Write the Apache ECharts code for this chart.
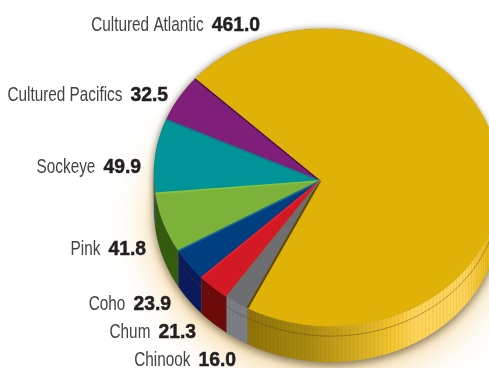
<!DOCTYPE html>
<html>
<head>
<meta charset="utf-8">
<style>html,body{margin:0;padding:0;background:#fff}#chart{width:489px;height:368px}</style>
<script src="https://cdn.jsdelivr.net/npm/echarts@6/dist/echarts.min.js"></script>
</head>
<body>
<div id="chart"></div>
<script>
// Farmed and wild salmon volumes, shown as a tilted 3D disc.
const categories = ['Cultured Atlantic', 'Cultured Pacifics', 'Sockeye', 'Pink', 'Coho', 'Chum', 'Chinook'];
const values = [461.0, 32.5, 49.9, 41.8, 23.9, 21.3, 16.0];

// Appearance per slice
const topColors = ['#E0B208', '#7F1F7A', '#009499', '#7DB23A', '#003F7F', '#D31A24', '#6D6E71'];
const edgeColors = ['#5E4C06', '#4F0F55', '#0A7F86', '#86C440', '#1A6A90', '#F02030', '#7A6A5A'];
const sideColors = ['#B8960F', '#4F0F55', '#00686C', '#34600F', '#0A1A5C', '#6E0A0A', '#7E7F86'];
const labelAnchors = [[260, 25], [168, 95], [141, 167], [146, 249], [171, 304], [196, 332], [236, 360]];

// Disc projection
const disc = { cx: 327, cy: 177.5, a: 173, b: 148.5, tilt: 4 * Math.PI / 180, hx: 320, hy: 181, squash: 1.075, depth: 36 };
const startAngle = -41.2 - 256.8;
const total = values.reduce((s, v) => s + v, 0);
const starts = values.reduce((acc, v, i) => { acc.push(acc[i] + v / total * 360); return acc; }, [startAngle]);

function toFrame(x, y) {
  const c = Math.cos(disc.tilt), s = Math.sin(disc.tilt);
  return [(x * c + y * s) / disc.a, (-x * s + y * c) / disc.b];
}
// Where the ray leaving the hub at a given slice angle meets the rim
function rim(deg) {
  const r = deg * Math.PI / 180;
  const d = toFrame(-Math.cos(r), Math.sin(r) / disc.squash);
  const p = toFrame(disc.hx - disc.cx, disc.hy - disc.cy);
  const A = d[0] * d[0] + d[1] * d[1];
  const B = p[0] * d[0] + p[1] * d[1];
  const C = p[0] * p[0] + p[1] * p[1] - 1;
  const t = (-B + Math.sqrt(B * B - A * C)) / A;
  return [disc.hx - Math.cos(r) * t, disc.hy + Math.sin(r) / disc.squash * t];
}
function arc(d0, d1, dy) {
  const pts = [];
  const n = Math.max(2, Math.ceil((d1 - d0) / 1.5));
  for (let i = 0; i <= n; i++) {
    const q = rim(d0 + (d1 - d0) * i / n);
    pts.push([q[0], q[1] + dy]);
  }
  return pts;
}
const goldSide = [
  { offset: 0, color: '#8F7208' }, { offset: 0.25, color: '#A98A10' }, { offset: 0.4, color: '#C9A31A' },
  { offset: 0.6, color: '#F2C52E' }, { offset: 0.7, color: '#FFD65A' }, { offset: 0.9, color: '#FFD65A' },
  { offset: 1, color: '#EFBC18' }
];

const backdrop = {
  type: 'custom', coordinateSystem: 'none', data: [0], silent: true, z: 1,
  renderItem: () => {
    const outline = arc(0, 360, disc.depth);
    return {
      type: 'group', children: [
        { type: 'polygon', shape: { points: outline }, style: { fill: '#fff', shadowBlur: 40, shadowColor: 'rgba(240,185,80,0.62)', shadowOffsetX: -2, shadowOffsetY: 12 } },
        { type: 'polygon', shape: { points: arc(0, 360, 0) }, style: { fill: '#888', shadowBlur: 6, shadowColor: 'rgba(50,40,20,0.55)', shadowOffsetX: -1 } },
        { type: 'polygon', shape: { points: outline }, style: { fill: '#888', shadowBlur: 9, shadowColor: 'rgba(50,40,20,0.6)', shadowOffsetY: 3 } }
      ]
    };
  }
};

const sides = {
  type: 'custom', coordinateSystem: 'none', silent: true, z: 2,
  data: values,
  renderItem: (params) => {
    const i = params.dataIndex;
    const top = arc(starts[i], starts[i + 1], 0);
    const bottom = arc(starts[i], starts[i + 1], disc.depth);
    const fill = i === 0
      ? new echarts.graphic.LinearGradient(245, 0, 489, 0, goldSide, true)
      : sideColors[i];
    const ribs = top.map((p, k) => ({
      type: 'line',
      shape: { x1: p[0], y1: p[1], x2: bottom[k][0], y2: bottom[k][1] },
      style: { stroke: 'rgba(60,45,20,0.13)', lineWidth: 0.7 }
    }));
    return {
      type: 'group', children: [
        { type: 'polygon', shape: { points: top.concat(bottom.slice().reverse()) }, style: { fill } },
        ...ribs,
        { type: 'polyline', shape: { points: arc(starts[i], starts[i + 1], 10) }, style: { fill: 'none', stroke: 'rgba(70,60,40,0.4)', lineWidth: 1 } }
      ]
    };
  }
};

const faces = {
  type: 'custom', coordinateSystem: 'none', silent: true, z: 3,
  data: values,
  renderItem: (params) => {
    const i = params.dataIndex;
    const pts = [[disc.hx, disc.hy]].concat(arc(starts[i], starts[i + 1], 0));
    return { type: 'polygon', shape: { points: pts }, style: { fill: topColors[i], stroke: topColors[i], lineWidth: 0.5 } };
  }
};

const edges = {
  type: 'custom', coordinateSystem: 'none', silent: true, z: 4,
  data: values,
  renderItem: (params) => {
    const i = params.dataIndex;
    const end = rim(starts[i]);
    return {
      type: 'line',
      shape: { x1: disc.hx, y1: disc.hy, x2: end[0], y2: end[1] },
      style: { stroke: edgeColors[i], lineWidth: i === 0 ? 2.2 : 1.6 }
    };
  }
};

// Condensed caption look: a sans face narrowed horizontally
const nameFont = { size: 21, weight: 'normal', squeeze: 0.73 };
const valueFont = { size: 21, weight: 'bold', squeeze: 0.92 };
const family = '"Liberation Sans"';
const measure = document.createElement('canvas').getContext('2d');
function widthOf(text, f) {
  measure.font = f.weight + ' ' + f.size + 'px ' + family;
  return measure.measureText(text).width * f.squeeze;
}
function captionPart(text, f, x, y, color, outline) {
  return {
    type: 'text', x, y, scaleX: f.squeeze, originX: 0, originY: 0,
    style: { text, fontFamily: family, fontSize: f.size, fontWeight: f.weight, fill: color, stroke: color, lineWidth: outline, align: 'right', verticalAlign: 'middle' }
  };
}
const labels = {
  type: 'custom', coordinateSystem: 'none', silent: true, z: 5,
  data: values,
  renderItem: (params) => {
    const i = params.dataIndex;
    const [x, y] = labelAnchors[i];
    const text = values[i].toFixed(1);
    return {
      type: 'group', children: [
        captionPart(categories[i], nameFont, x - widthOf(text, valueFont) - 8, y, '#434345', 0),
        captionPart(text, valueFont, x, y, '#231F20', 0.5)
      ]
    };
  }
};

const chart = echarts.init(document.getElementById('chart'), null, { renderer: 'canvas' });
chart.setOption({
  animation: false,
  backgroundColor: '#ffffff',
  series: [backdrop, sides, faces, edges, labels]
});
</script>
</body>
</html>
